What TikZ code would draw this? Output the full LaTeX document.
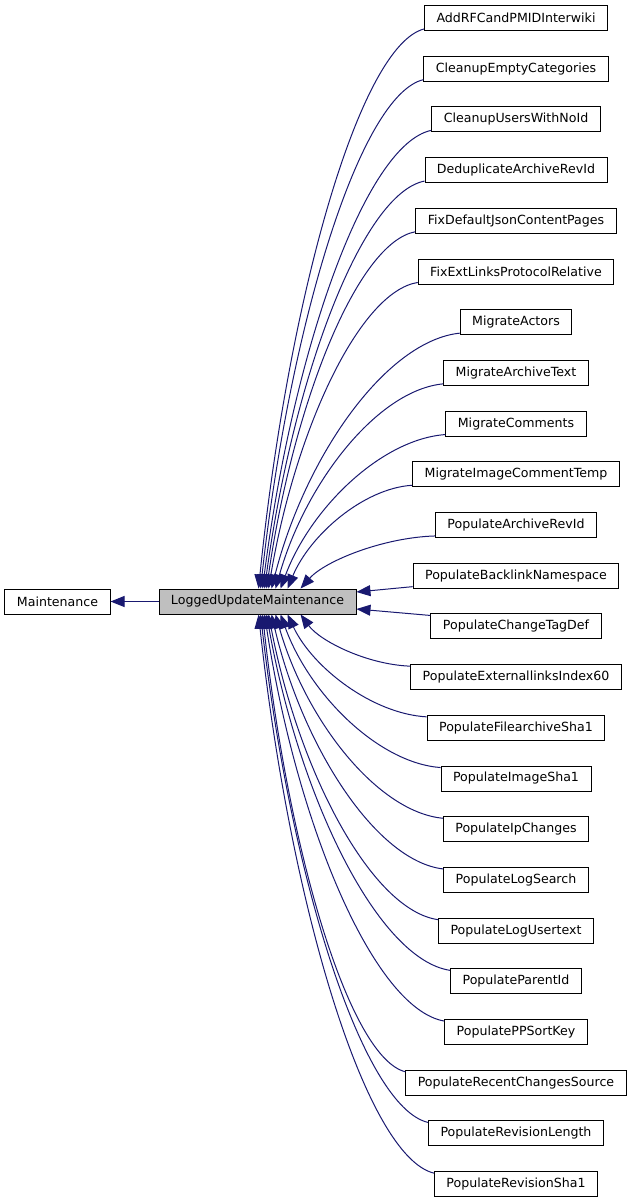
\documentclass[tikz,border=0pt]{standalone}
\usepackage{fontspec}
\setmainfont{DejaVu Sans}
\usetikzlibrary{arrows.meta}
\usetikzlibrary{calc}

\definecolor{edgeblue}{RGB}{25,25,112}
\tikzset{
	cls/.style={draw=black,line width=0.9pt,fill=white,minimum height=25pt,
		inner xsep=12pt,inner ysep=0pt,font=\fontsize{12.6}{15}\selectfont},
	basecls/.style={cls,fill=black!25},
	inherit/.style={draw=edgeblue,line width=1pt,
		-{Triangle[length=14pt,width=11pt]}}
}

\begin{document}
\begin{tikzpicture}[x=1pt,y=-1pt]
		\useasboundingbox (0,0) rectangle (633,1203);
		\node[cls] (maint) at (57.5,601.5) {Maintenance};
		\node[basecls] (lum) at (257.5,601.5) {LoggedUpdateMaintenance};
		\foreach \c/\t [count=\i from 0] in {
			addrf/AddRFCandPMIDInterwiki,
			cleanempty/CleanupEmptyCategories,
			cleanusers/CleanupUsersWithNoId,
			dedup/DeduplicateArchiveRevId,
			fixjson/FixDefaultJsonContentPages,
			fixext/FixExtLinksProtocolRelative,
			migactors/MigrateActors,
			migarchive/MigrateArchiveText,
			migcomments/MigrateComments,
			migimage/MigrateImageCommentTemp,
			poparchive/PopulateArchiveRevId,
			popbacklink/PopulateBacklinkNamespace,
			popchangetag/PopulateChangeTagDef,
			popextlinks/PopulateExternallinksIndex60,
			popfilearch/PopulateFilearchiveSha1,
			popimage/PopulateImageSha1,
			popip/PopulateIpChanges,
			poplogsearch/PopulateLogSearch,
			poplogtext/PopulateLogUsertext,
			popparent/PopulateParentId,
			poppp/PopulatePPSortKey,
			poprecent/PopulateRecentChangesSource,
			poprevlen/PopulateRevisionLength,
			poprevsha/PopulateRevisionSha1}
			\node[cls] (\c) at (516,{18+50.7*\i}) {\t};

		\draw[inherit] (lum.west) -- (maint.east);

		% children above the base class
		\foreach \c/\dx in {addrf/100,cleanempty/102,cleanusers/104,dedup/106,
				fixjson/108,fixext/110,migactors/113,migarchive/117,
				migcomments/122,migimage/129,poparchive/142}
			\draw[inherit] let \p1=([yshift=2pt]\c.south west),
					\p2=([xshift=\dx pt]lum.north west) in
				(\p1) .. controls ({\x1+0.39*((\x2)-(\x1))},{\y1+0.03*((\y2)-(\y1))})
				and ({\x2+0.18*((\x1)-(\x2))},{\y2+0.52*((\y1)-(\y2))}) .. (\p2);
		% children beside it
		\draw[inherit] ([yshift=2pt]popbacklink.south west) -- ([yshift=9.5pt]lum.east);
		\draw[inherit] ([yshift=-2pt]popchangetag.north west) -- ([yshift=-7.5pt]lum.east);
		% children below it
		\foreach \c/\dx in {popextlinks/142,popfilearch/129,popimage/122,popip/117,
				poplogsearch/113,poplogtext/110,popparent/108,poppp/106,
				poprecent/104,poprevlen/102,poprevsha/100}
			\draw[inherit] let \p1=([yshift=-2pt]\c.north west),
					\p2=([xshift=\dx pt]lum.south west) in
				(\p1) .. controls ({\x1+0.39*((\x2)-(\x1))},{\y1+0.03*((\y2)-(\y1))})
				and ({\x2+0.18*((\x1)-(\x2))},{\y2+0.52*((\y1)-(\y2))}) .. (\p2);
	\end{tikzpicture}
\end{document}
